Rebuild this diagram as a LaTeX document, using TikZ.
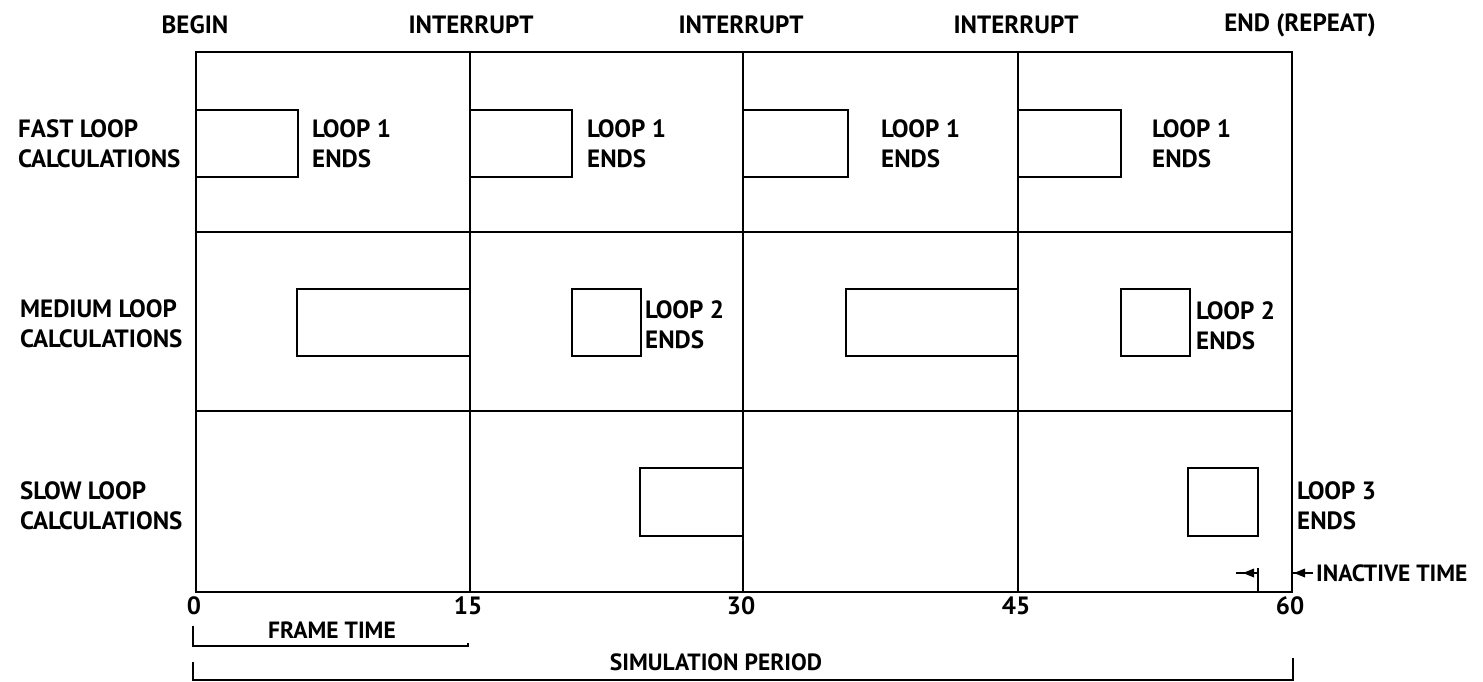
\documentclass[tikz,border=0pt]{standalone}
\usepackage{fontspec}
\setmainfont{PT Sans}
\begin{document}
\begin{tikzpicture}[x=1pt,y=-1pt,
  grid/.style={line width=1.9pt,line cap=rect},
  taskbox/.style={line width=1.7pt},
  lbl/.style={font=\bfseries\fontsize{25}{30}\selectfont,inner sep=0pt},
  small/.style={lbl,font=\bfseries\fontsize{23.5}{28}\selectfont},
  side/.style={lbl,anchor=west,align=left},
  brk/.style={line width=1.3pt},
  tip/.style={fill=black}]
\useasboundingbox[fill=white] (0,0) rectangle (1483,681);
% grid
\draw[grid] (196,52) rectangle (1292,592);
\foreach \x in {470,743,1018} \draw[grid] (\x,52) -- (\x,592);
\foreach \y in {232,411} \draw[grid] (196,\y) -- (1292,\y);
% fast loop boxes
\foreach \a/\b in {196/298,470/572,743/848,1018/1121}
  \draw[taskbox] (\a,110) rectangle (\b,177);
% medium loop boxes
\foreach \a/\b in {297/470,572/641,846/1018,1121/1190}
  \draw[taskbox] (\a,289) rectangle (\b,356);
% slow loop boxes
\foreach \a/\b in {640/743,1188/1258}
  \draw[taskbox] (\a,468) rectangle (\b,536);
% top labels
\node[lbl] (begin) at (195,25) {BEGIN};
\node[lbl] (int1) at (471,25) {INTERRUPT};
\node[lbl] (int2) at (741,25) {INTERRUPT};
\node[lbl] (int3) at (1016,25) {INTERRUPT};
\node[lbl] (endr) at (1300,25) {END (REPEAT)};
% row labels
\node[side] (fast) at (18,143.5) {FAST LOOP\\CALCULATIONS};
\node[side] (medium) at (20,324) {MEDIUM LOOP\\CALCULATIONS};
\node[side] (slow) at (20,506) {SLOW LOOP\\CALCULATIONS};
% loop end labels
\node[side] (l1a) at (312,143.5) {LOOP 1\\ENDS};
\node[side] (l1b) at (587,143.5) {LOOP 1\\ENDS};
\node[side] (l1c) at (881,143.5) {LOOP 1\\ENDS};
\node[side] (l1d) at (1152,143.5) {LOOP 1\\ENDS};
\node[side] (l2a) at (645,325) {LOOP 2\\ENDS};
\node[side] (l2b) at (1196,326) {LOOP 2\\ENDS};
\node[side] (l3) at (1297,506) {LOOP 3\\ENDS};
% axis numbers
\node[lbl] (n0) at (194,606) {0};
\node[lbl] (n15) at (468,606) {15};
\node[lbl] (n30) at (741,606) {30};
\node[lbl] (n45) at (1016,606) {45};
\node[lbl] (n60) at (1290,606) {60};
% frame time bracket
\draw[brk] (193,626) -- (193,646) -- (468,646) -- (468,643);
\node[small] (frame) at (332,630) {FRAME TIME};
% simulation period bracket
\draw[brk] (193,662) -- (193,680) -- (1293,680) -- (1293,658);
\node[small] (sim) at (716,662) {SIMULATION PERIOD};
% inactive time
\draw[line width=1.5pt] (1258,568) -- (1258,592);
\draw[line width=1.5pt] (1236,573) -- (1258,573);
\fill[tip] (1243,573) -- (1254,568.5) -- (1254,577.5) -- cycle;
\draw[line width=1.5pt] (1292,573) -- (1313,573);
\fill[tip] (1294,573) -- (1305,568.5) -- (1305,577.5) -- cycle;
\node[small,anchor=west] (inactive) at (1316,573) {INACTIVE TIME};
\end{tikzpicture}
\end{document}
